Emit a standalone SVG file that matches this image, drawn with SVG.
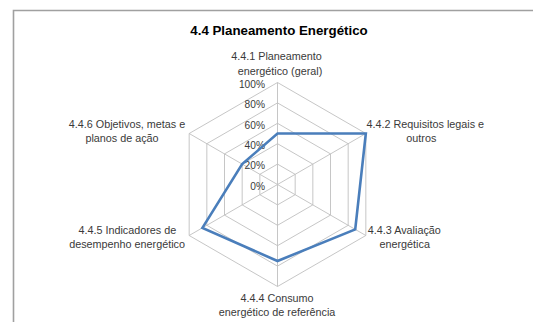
<svg xmlns="http://www.w3.org/2000/svg" width="533" height="322" viewBox="0 0 533 322">
<style>
.frame{fill:none;stroke:#a0a0a0;stroke-width:1.6}
.grid{fill:none;stroke:#c0c0c0;stroke-width:0.9}
.series{fill:none;stroke:#4a7ebb;stroke-width:2.6;stroke-linejoin:miter}
.title{font-family:"Liberation Sans",Arial,sans-serif;font-weight:bold;font-size:13.3px;fill:#000;text-anchor:middle}
.lbl{font-family:"Liberation Sans",Arial,sans-serif;font-size:10.8px;fill:#3a3a3a;text-anchor:middle}
.tick{font-family:"Liberation Sans",Arial,sans-serif;font-size:10.2px;fill:#3a3a3a;text-anchor:end}
</style>
<rect width="533" height="322" fill="#ffffff"/>
<path class="frame" d="M13.5,330 V10.5 H545"/>
<text class="title" x="279" y="35">4.4 Planeamento Energético</text>

<g id="grid">
<polygon class="grid" points="277.5,164.1 295.17,174.3 295.17,194.7 277.5,204.9 259.83,194.7 259.83,174.3"/>
<polygon class="grid" points="277.5,143.7 312.83,164.1 312.83,204.9 277.5,225.3 242.17,204.9 242.17,164.1"/>
<polygon class="grid" points="277.5,123.3 330.5,153.9 330.5,215.1 277.5,245.7 224.5,215.1 224.5,153.9"/>
<polygon class="grid" points="277.5,102.9 348.17,143.7 348.17,225.3 277.5,266.1 206.83,225.3 206.83,143.7"/>
<polygon class="grid" points="277.5,82.5 365.83,133.5 365.83,235.5 277.5,286.5 189.17,235.5 189.17,133.5"/>
<path class="grid" d="M277.5,184.5 L277.5,82.5 M277.5,184.5 L365.83,133.5 M277.5,184.5 L365.83,235.5 M277.5,184.5 L277.5,286.5 M277.5,184.5 L189.17,235.5 M277.5,184.5 L189.17,133.5"/>
</g>

<g id="ticks">
<text class="tick" x="265" y="87.8">100%</text>
<text class="tick" x="265" y="108.2">80%</text>
<text class="tick" x="265" y="128.6">60%</text>
<text class="tick" x="265" y="149">40%</text>
<text class="tick" x="265" y="169.4">20%</text>
<text class="tick" x="265" y="189.8">0%</text>
</g>

<g id="series">
<polygon class="series" points="277.5,133.5 365.83,133.5 355.23,229.38 277.5,261 202.42,227.85 242.17,164.1"/>
</g>

<g id="label-441">
<text class="lbl" x="276.5" y="60">4.4.1 Planeamento</text>
<text class="lbl" x="280" y="74.5">energético (geral)</text>
</g>
<g id="label-442">
<text class="lbl" x="425.3" y="127.5">4.4.2 Requisitos legais e</text>
<text class="lbl" x="421.3" y="141.5">outros</text>
</g>
<g id="label-443">
<text class="lbl" x="404.3" y="233.5">4.4.3 Avaliação</text>
<text class="lbl" x="404.7" y="247.5">energética</text>
</g>
<g id="label-444">
<text class="lbl" x="277" y="301.5">4.4.4 Consumo</text>
<text class="lbl" x="277.1" y="315.5">energético de referência</text>
</g>
<g id="label-445">
<text class="lbl" x="127.3" y="233.5">4.4.5 Indicadores de</text>
<text class="lbl" x="127.1" y="247.5">desempenho energético</text>
</g>
<g id="label-446">
<text class="lbl" x="127" y="127.5">4.4.6 Objetivos, metas e</text>
<text class="lbl" x="122" y="141.5">planos de ação</text>
</g>
</svg>
